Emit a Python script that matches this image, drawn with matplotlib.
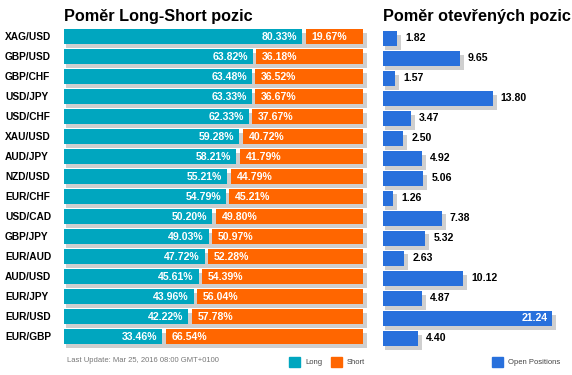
import matplotlib
matplotlib.use('Agg')
import matplotlib.pyplot as plt
from matplotlib.patches import Rectangle
from matplotlib.transforms import blended_transform_factory

plt.rcParams['font.family'] = ['Liberation Sans', 'DejaVu Sans']

# data
pairs = ['XAG/USD', 'GBP/USD', 'GBP/CHF', 'USD/JPY', 'USD/CHF', 'XAU/USD', 'AUD/JPY', 'NZD/USD',
         'EUR/CHF', 'USD/CAD', 'GBP/JPY', 'EUR/AUD', 'AUD/USD', 'EUR/JPY', 'EUR/USD', 'EUR/GBP']
long_pct = [80.33, 63.82, 63.48, 63.33, 62.33, 59.28, 58.21, 55.21,
            54.79, 50.20, 49.03, 47.72, 45.61, 43.96, 42.22, 33.46]
short_pct = [19.67, 36.18, 36.52, 36.67, 37.67, 40.72, 41.79, 44.79,
             45.21, 49.80, 50.97, 52.28, 54.39, 56.04, 57.78, 66.54]
open_pos = [1.82, 9.65, 1.57, 13.80, 3.47, 2.50, 4.92, 5.06,
            1.26, 7.38, 5.32, 2.63, 10.12, 4.87, 21.24, 4.40]

TEAL = '#00a6bf'
ORANGE = '#ff6600'
BLUE = '#2870dc'
SHADOW = '#cfcfcf'

W, H = 572, 375
fig = plt.figure(figsize=(W / 100, H / 100), dpi=100)


def px_axes(x0, x1, ytop, ybot):
    return fig.add_axes([x0 / W, 1 - ybot / H, (x1 - x0) / W, (ybot - ytop) / H])


n = len(pairs)
ys = list(range(n))
bh = 0.77

# ---- left chart: long / short ratio
ax = px_axes(64, 362.7, 26.7, 346.7)
ax.set_xlim(0, 100)
ax.set_ylim(n - 0.5, -0.5)
ux = 100 / 298.7  # data units per pixel
gap = 1.65 * ux

ax.barh([y + 0.2 for y in ys], 100 + 2 * ux, left=2 * ux, height=bh, color=SHADOW,
        clip_on=False, zorder=1)
ax.barh(ys, [l - gap for l in long_pct], left=0, height=bh, color=TEAL, zorder=2)
ax.barh(ys, [s - gap for s in short_pct], left=[l + gap for l in long_pct], height=bh,
        color=ORANGE, zorder=2)
for y, l, s in zip(ys, long_pct, short_pct):
    ax.text(l - gap - 5 * ux, y, f'{l:.2f}%', ha='right', va='center', color='white',
            fontsize=7.6, fontweight='bold', zorder=3)
    ax.text(l + gap + 6 * ux, y, f'{s:.2f}%', ha='left', va='center', color='white',
            fontsize=7.6, fontweight='bold', zorder=3)
ax.axis('off')

tr = blended_transform_factory(fig.transFigure, ax.transData)
for y, p in zip(ys, pairs):
    ax.text(5 / W, y, p, transform=tr, ha='left', va='center', fontsize=7.3,
            fontweight='bold', color='black')

# ---- right chart: open positions
ax2 = px_axes(383, 572, 28.2, 348.2)
sx = 7.94  # pixels per unit
ax2.set_xlim(0, 189 / sx)
ax2.set_ylim(n - 0.5, -0.5)
u2 = 1 / sx
ax2.barh([y + 0.2 for y in ys], [v + 2 * u2 for v in open_pos], left=2 * u2, height=bh,
         color=SHADOW, clip_on=False, zorder=1)
ax2.barh(ys, open_pos, height=bh, color=BLUE, zorder=2)
for y, v in zip(ys, open_pos):
    if v > 18:
        ax2.text(v - 4 * u2, y, f'{v:.2f}', ha='right', va='center', color='white',
                 fontsize=7.6, fontweight='bold', zorder=3)
    else:
        ax2.text(v + 8.3 * u2, y, f'{v:.2f}', ha='left', va='center', color='black',
                 fontsize=7.6, fontweight='bold', zorder=3)
ax2.axis('off')

# titles
fig.text(64 / W, 1 - 16.5 / H, 'Poměr Long-Short pozic', ha='left', va='center',
         fontsize=11.7, fontweight='bold')
fig.text(383 / W, 1 - 16.5 / H, 'Poměr otevřených pozic', ha='left', va='center',
         fontsize=11.7, fontweight='bold')

# footer and legends
fig.text(67 / W, 1 - 361 / H, 'Last Update: Mar 25, 2016 08:00 GMT+0100', ha='left',
         va='center', fontsize=5.5, color='#777777')


def legend_item(x, label, color):
    fig.patches.append(Rectangle((x / W, 1 - 367 / H), 11 / W, 10 / H, color=color,
                                 transform=fig.transFigure))
    fig.text((x + 16) / W, 1 - 362 / H, label, ha='left', va='center', fontsize=5.5,
             color='#444444')


legend_item(289, 'Long', TEAL)
legend_item(330.7, 'Short', ORANGE)
legend_item(492.3, 'Open Positions', BLUE)

fig.savefig('out.png', dpi=100, facecolor='white')
